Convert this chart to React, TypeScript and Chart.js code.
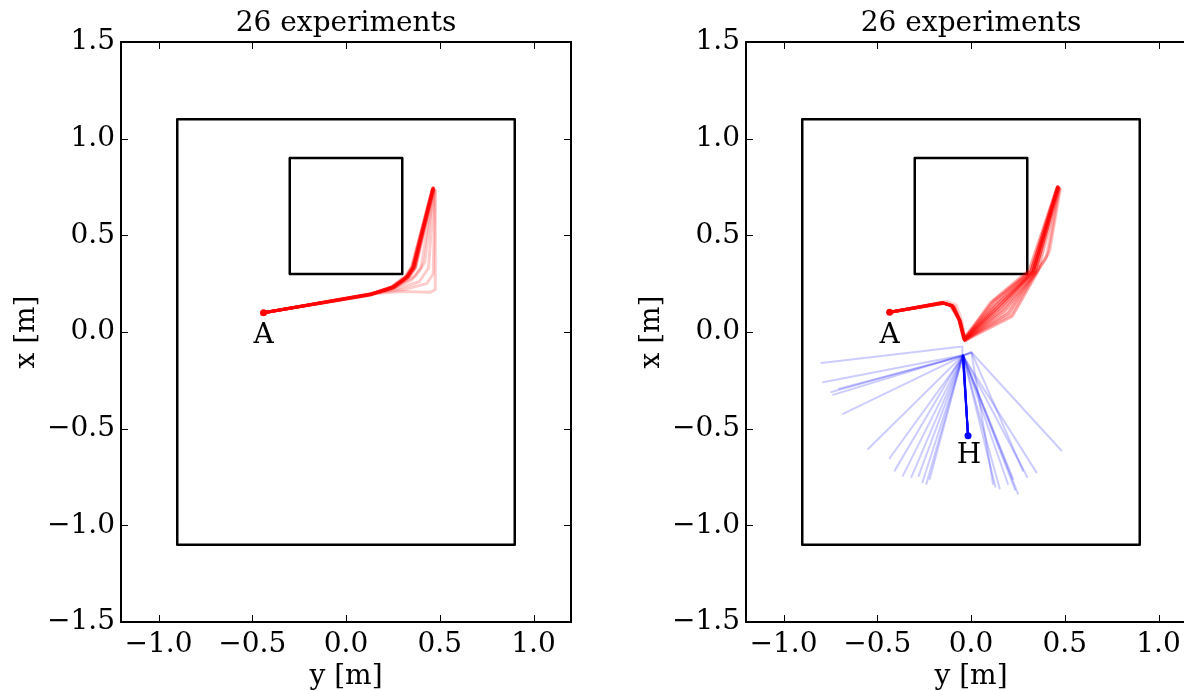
import React, { useEffect, useRef } from 'react';
import { Chart, registerables } from 'chart.js';

Chart.register(...registerables);

type Pt = [number, number]; // [y (horizontal, m), x (vertical, m)]

const TITLE = '26 experiments';
const X_LABEL = 'y [m]';
const Y_LABEL = 'x [m]';
const H_TICKS = [-1.0, -0.5, 0.0, 0.5, 1.0];
const V_TICKS = [-1.5, -1.0, -0.5, 0.0, 0.5, 1.0, 1.5];
const H_MIN = -1.2;
const H_MAX = 1.2;
const V_MIN = -1.5;
const V_MAX = 1.5;

const OUTER_RECT: Pt[] = [[-0.9, -1.1], [0.9, -1.1], [0.9, 1.1], [-0.9, 1.1], [-0.9, -1.1]];
const INNER_RECT: Pt[] = [[-0.3, 0.3], [0.3, 0.3], [0.3, 0.9], [-0.3, 0.9], [-0.3, 0.3]];

const START_A_LEFT: Pt = [-0.44, 0.10];
const START_A_RIGHT: Pt = [-0.434, 0.102];
const START_H: Pt = [-0.016, -0.536];

const LABEL_A_LEFT: Pt = [-0.44, -0.02];
const LABEL_A_RIGHT: Pt = [-0.434, -0.02];
const LABEL_H: Pt = [-0.011, -0.64];

const LEFT_RED: Pt[][] = [
  [[-0.44, 0.10], [0.13, 0.195], [0.25, 0.232], [0.325, 0.284], [0.36, 0.335], [0.464, 0.741]],
  [[-0.44, 0.10], [0.12, 0.190], [0.24, 0.228], [0.318, 0.280], [0.354, 0.330], [0.462, 0.738]],
  [[-0.44, 0.10], [0.14, 0.198], [0.26, 0.236], [0.332, 0.290], [0.366, 0.342], [0.466, 0.744]],
  [[-0.44, 0.10], [0.13, 0.190], [0.25, 0.226], [0.330, 0.280], [0.362, 0.330], [0.465, 0.736]],
  [[-0.44, 0.10], [0.125, 0.192], [0.245, 0.234], [0.320, 0.290], [0.352, 0.340], [0.460, 0.740]],
  [[-0.44, 0.10], [0.135, 0.196], [0.255, 0.230], [0.328, 0.282], [0.368, 0.332], [0.468, 0.742]],
  [[-0.44, 0.10], [0.13, 0.194], [0.25, 0.233], [0.324, 0.286], [0.358, 0.338], [0.463, 0.746]],
  [[-0.44, 0.10], [0.12, 0.193], [0.24, 0.232], [0.316, 0.287], [0.350, 0.338], [0.461, 0.743]],
  [[-0.44, 0.10], [0.14, 0.196], [0.26, 0.231], [0.334, 0.283], [0.370, 0.334], [0.467, 0.739]],
  [[-0.44, 0.10], [0.13, 0.197], [0.25, 0.235], [0.326, 0.288], [0.360, 0.340], [0.464, 0.745]],
  [[-0.44, 0.10], [0.125, 0.191], [0.245, 0.229], [0.322, 0.281], [0.356, 0.331], [0.462, 0.737]],
  [[-0.44, 0.10], [0.135, 0.194], [0.255, 0.232], [0.330, 0.285], [0.364, 0.336], [0.466, 0.741]],
  [[-0.44, 0.10], [0.13, 0.192], [0.25, 0.227], [0.327, 0.279], [0.362, 0.328], [0.465, 0.734]],
  [[-0.44, 0.10], [0.14, 0.199], [0.26, 0.237], [0.334, 0.291], [0.368, 0.343], [0.467, 0.747]],
  [[-0.44, 0.10], [0.12, 0.189], [0.24, 0.226], [0.318, 0.278], [0.352, 0.329], [0.460, 0.736]],
  [[-0.44, 0.10], [0.13, 0.195], [0.25, 0.231], [0.324, 0.284], [0.359, 0.335], [0.464, 0.740]],
  [[-0.44, 0.10], [0.135, 0.197], [0.255, 0.234], [0.329, 0.287], [0.363, 0.339], [0.465, 0.743]],
  [[-0.44, 0.10], [0.125, 0.193], [0.245, 0.231], [0.321, 0.284], [0.355, 0.334], [0.462, 0.739]],
  [[-0.44, 0.10], [0.13, 0.196], [0.25, 0.233], [0.326, 0.286], [0.361, 0.337], [0.466, 0.742]],
  [[-0.44, 0.10], [0.14, 0.195], [0.26, 0.230], [0.336, 0.282], [0.372, 0.333], [0.469, 0.740]],
  [[-0.44, 0.10], [0.13, 0.194], [0.25, 0.232], [0.323, 0.285], [0.357, 0.336], [0.463, 0.741]],
  [[-0.44, 0.10], [0.14, 0.198], [0.30, 0.210], [0.45, 0.205], [0.475, 0.22], [0.476, 0.732]],
  [[-0.44, 0.10], [0.14, 0.198], [0.28, 0.225], [0.39, 0.260], [0.44, 0.33], [0.470, 0.735]],
  [[-0.44, 0.10], [0.13, 0.195], [0.27, 0.235], [0.37, 0.290], [0.42, 0.36], [0.468, 0.738]],
  [[-0.44, 0.10], [0.14, 0.200], [0.31, 0.220], [0.43, 0.250], [0.465, 0.30], [0.475, 0.730]],
  [[-0.44, 0.10], [0.135, 0.195], [0.26, 0.230], [0.35, 0.270], [0.40, 0.33], [0.466, 0.740]],
];

const RIGHT_RED: Pt[][] = [
  [[-0.434, 0.102], [-0.15, 0.150], [-0.10, 0.136], [-0.062, 0.060], [-0.035, -0.040], [0.15, 0.135], [0.33, 0.310], [0.464, 0.750]],
  [[-0.434, 0.102], [-0.16, 0.152], [-0.11, 0.140], [-0.066, 0.070], [-0.040, -0.035], [0.12, 0.160], [0.32, 0.315], [0.460, 0.745]],
  [[-0.434, 0.102], [-0.14, 0.148], [-0.09, 0.130], [-0.055, 0.050], [-0.030, -0.045], [0.20, 0.100], [0.34, 0.305], [0.468, 0.748]],
  [[-0.434, 0.102], [-0.15, 0.150], [-0.10, 0.134], [-0.060, 0.060], [-0.034, -0.042], [0.22, 0.080], [0.35, 0.300], [0.470, 0.742]],
  [[-0.434, 0.102], [-0.15, 0.152], [-0.10, 0.138], [-0.064, 0.065], [-0.036, -0.038], [0.14, 0.145], [0.33, 0.312], [0.465, 0.752]],
  [[-0.434, 0.102], [-0.145, 0.149], [-0.095, 0.132], [-0.058, 0.055], [-0.032, -0.044], [0.17, 0.120], [0.34, 0.308], [0.466, 0.746]],
  [[-0.434, 0.102], [-0.155, 0.151], [-0.105, 0.137], [-0.063, 0.062], [-0.037, -0.039], [0.10, 0.150], [0.31, 0.318], [0.458, 0.748]],
  [[-0.434, 0.102], [-0.15, 0.150], [-0.10, 0.135], [-0.060, 0.058], [-0.035, -0.041], [0.16, 0.128], [0.33, 0.309], [0.464, 0.749]],
  [[-0.434, 0.102], [-0.13, 0.158], [-0.08, 0.140], [-0.050, 0.060], [-0.030, -0.040], [0.18, 0.110], [0.36, 0.320], [0.472, 0.744]],
  [[-0.434, 0.102], [-0.15, 0.151], [-0.10, 0.136], [-0.061, 0.061], [-0.035, -0.040], [0.13, 0.150], [0.32, 0.312], [0.462, 0.751]],
  [[-0.434, 0.102], [-0.15, 0.150], [-0.10, 0.135], [-0.060, 0.060], [-0.034, -0.041], [0.21, 0.090], [0.35, 0.310], [0.41, 0.400], [0.474, 0.740]],
  [[-0.434, 0.102], [-0.155, 0.152], [-0.105, 0.138], [-0.064, 0.064], [-0.037, -0.037], [0.15, 0.138], [0.33, 0.311], [0.463, 0.750]],
  [[-0.434, 0.102], [-0.145, 0.149], [-0.095, 0.133], [-0.057, 0.056], [-0.033, -0.043], [0.19, 0.105], [0.34, 0.302], [0.467, 0.745]],
  [[-0.434, 0.102], [-0.15, 0.150], [-0.10, 0.136], [-0.062, 0.060], [-0.035, -0.040], [0.11, 0.155], [0.31, 0.320], [0.459, 0.747]],
  [[-0.434, 0.102], [-0.15, 0.151], [-0.10, 0.135], [-0.060, 0.059], [-0.035, -0.041], [0.16, 0.130], [0.33, 0.310], [0.465, 0.750]],
  [[-0.434, 0.102], [-0.16, 0.153], [-0.11, 0.139], [-0.067, 0.068], [-0.041, -0.034], [0.14, 0.148], [0.32, 0.314], [0.461, 0.749]],
  [[-0.434, 0.102], [-0.14, 0.148], [-0.09, 0.131], [-0.054, 0.052], [-0.031, -0.046], [0.22, 0.085], [0.35, 0.305], [0.42, 0.420], [0.476, 0.738]],
  [[-0.434, 0.102], [-0.15, 0.150], [-0.10, 0.135], [-0.060, 0.060], [-0.035, -0.040], [0.15, 0.135], [0.33, 0.310], [0.464, 0.748]],
  [[-0.434, 0.102], [-0.15, 0.152], [-0.10, 0.137], [-0.063, 0.063], [-0.036, -0.039], [0.13, 0.152], [0.32, 0.316], [0.462, 0.752]],
  [[-0.434, 0.102], [-0.145, 0.150], [-0.095, 0.134], [-0.058, 0.057], [-0.033, -0.042], [0.18, 0.115], [0.34, 0.306], [0.467, 0.744]],
  [[-0.434, 0.102], [-0.15, 0.150], [-0.10, 0.135], [-0.061, 0.060], [-0.035, -0.040], [0.16, 0.126], [0.33, 0.309], [0.465, 0.747]],
  [[-0.434, 0.102], [-0.155, 0.151], [-0.105, 0.136], [-0.062, 0.061], [-0.036, -0.040], [0.14, 0.142], [0.33, 0.312], [0.463, 0.751]],
  [[-0.434, 0.102], [-0.15, 0.150], [-0.10, 0.135], [-0.060, 0.060], [-0.035, -0.040], [0.20, 0.095], [0.35, 0.310], [0.40, 0.380], [0.470, 0.742]],
  [[-0.434, 0.102], [-0.15, 0.151], [-0.10, 0.136], [-0.061, 0.061], [-0.035, -0.040], [0.15, 0.136], [0.33, 0.310], [0.464, 0.749]],
  [[-0.434, 0.102], [-0.14, 0.149], [-0.09, 0.132], [-0.056, 0.054], [-0.032, -0.044], [0.17, 0.118], [0.34, 0.307], [0.466, 0.746]],
  [[-0.434, 0.102], [-0.16, 0.152], [-0.11, 0.139], [-0.066, 0.066], [-0.039, -0.036], [0.12, 0.158], [0.32, 0.316], [0.460, 0.748]],
];

// Each blue trajectory: H -> hub -> (optional turn point) -> end
const BLUE_HUBS: Pt[] = [
  [-0.043, -0.122], [-0.045, -0.120], [-0.041, -0.124], [-0.044, -0.121], [-0.042, -0.123],
  [-0.043, -0.122], [-0.040, -0.125], [-0.044, -0.120], [-0.042, -0.122], [-0.043, -0.124],
  [-0.041, -0.121], [-0.044, -0.123], [-0.040, -0.120], [-0.042, -0.124], [-0.043, -0.121],
  [-0.041, -0.123], [-0.042, -0.120], [-0.044, -0.122], [-0.040, -0.121], [-0.043, -0.123],
  [-0.042, -0.122], [-0.041, -0.124], [-0.045, -0.121], [-0.042, -0.121], [-0.043, -0.122],
  [-0.041, -0.122],
];

const BLUE_TURNS: (Pt | null)[] = [
  [-0.046, -0.075], null, null, null, null,
  null, null, null, null, null,
  null, null, [0.002, -0.105], null, null,
  null, [0.004, -0.108], null, [0.002, -0.105], null,
  null, null, null, null, null,
  null,
];

const BLUE_ENDS: Pt[] = [
  [-0.798, -0.160], [-0.789, -0.260], [-0.704, -0.294], [-0.736, -0.325], [-0.683, -0.423],
  [-0.549, -0.605], [-0.434, -0.653], [-0.407, -0.717], [-0.363, -0.743], [-0.318, -0.751],
  [-0.259, -0.777], [-0.238, -0.786], [0.117, -0.786], [0.197, -0.786], [0.224, -0.760],
  [0.251, -0.837], [0.277, -0.717], [0.349, -0.726], [0.482, -0.613], [0.153, -0.810],
  [-0.280, -0.745], [0.235, -0.815], [-0.745, -0.310], [0.130, -0.800], [-0.220, -0.760],
  [0.300, -0.750],
];

const FONT = '"DejaVu Serif", serif';
const RED_TRACE = 'rgba(255,0,0,0.2)';
const BLUE_TRACE = 'rgba(0,0,255,0.2)';

const toXY = (pts: Pt[]) => pts.map(([h, v]) => ({ x: h, y: v }));
const fmt = (v: any) => {
  const n = Number(v);
  const s = Math.abs(n) < 1e-9 ? '0.0' : n.toFixed(1);
  return s.replace('-', '\u2212');
};

const framePlugin = {
  id: 'frame',
  afterDraw(chart: any, _args: any, opts: any) {
    const { ctx, chartArea: a, scales } = chart;
    const xs = scales.x;
    const ys = scales.y;
    const TL = 7;
    ctx.save();
    ctx.strokeStyle = '#000';
    ctx.lineWidth = 1;
    ctx.beginPath();
    for (const v of H_TICKS) {
      const p = Math.round(xs.getPixelForValue(v)) + 0.5;
      ctx.moveTo(p, a.bottom);
      ctx.lineTo(p, a.bottom - TL);
      ctx.moveTo(p, a.top);
      ctx.lineTo(p, a.top + TL);
    }
    for (const v of V_TICKS) {
      const p = Math.round(ys.getPixelForValue(v)) + 0.5;
      ctx.moveTo(a.left, p);
      ctx.lineTo(a.left + TL, p);
      ctx.moveTo(a.right, p);
      ctx.lineTo(a.right - TL, p);
    }
    ctx.stroke();
    ctx.lineWidth = 2;
    ctx.strokeRect(a.left, a.top, a.right - a.left, a.bottom - a.top);
    ctx.fillStyle = '#000';
    ctx.font = '28px ' + FONT;
    ctx.textAlign = 'center';
    ctx.textBaseline = 'middle';
    for (const l of (opts && opts.labels) || []) {
      ctx.fillText(l.text, xs.getPixelForValue(l.at[0]), ys.getPixelForValue(l.at[1]));
    }
    ctx.restore();
  },
};

function makeConfig(datasets: any[], labels: any[]): any {
  const tickFont = { family: FONT, size: 28 };
  const titleFont = { family: FONT, size: 28, lineHeight: 1 };
  return {
    type: 'scatter',
    data: { datasets },
    options: {
      animation: false,
      responsive: false,
      maintainAspectRatio: false,
      layout: { padding: { top: 0, right: 54, bottom: 0, left: 0 } },
      elements: { point: { radius: 0, hoverRadius: 0 }, line: { tension: 0 } },
      plugins: {
        legend: { display: false },
        tooltip: { enabled: false },
        title: {
          display: true,
          text: TITLE,
          fullSize: false,
          color: '#000',
          font: { ...titleFont, weight: 'normal' },
          padding: { top: 10, bottom: 4 },
        },
        frame: { labels },
      },
      scales: {
        x: {
          type: 'linear',
          min: H_MIN,
          max: H_MAX,
          afterBuildTicks: (s: any) => { s.ticks = H_TICKS.map((v) => ({ value: v })); },
          afterFit: (s: any) => { s.height = 69; },
          grid: { display: false, drawTicks: false },
          border: { display: false },
          ticks: { padding: 6, color: '#000', font: tickFont, callback: fmt, maxRotation: 0, autoSkip: false },
          title: { display: true, text: X_LABEL, color: '#000', font: titleFont, padding: { top: 0, bottom: 0 } },
        },
        y: {
          type: 'linear',
          min: V_MIN,
          max: V_MAX,
          afterBuildTicks: (s: any) => { s.ticks = V_TICKS.map((v) => ({ value: v })); },
          afterFit: (s: any) => { s.width = 121; },
          grid: { display: false, drawTicks: false },
          border: { display: false },
          ticks: { padding: 6, color: '#000', font: tickFont, callback: fmt, autoSkip: false },
          title: { display: true, text: Y_LABEL, color: '#000', font: titleFont, padding: { top: 13, bottom: 0 } },
        },
      },
    },
    plugins: [framePlugin],
  };
}

const lineDs = (pts: Pt[], color: string, width: number) => ({
  data: toXY(pts),
  showLine: true,
  borderColor: color,
  borderWidth: width,
  pointRadius: 0,
  fill: false,
  borderJoinStyle: 'round',
  borderCapStyle: 'round',
});

const markerDs = (pt: Pt, color: string) => ({
  data: toXY([pt]),
  showLine: false,
  pointRadius: 3.5,
  pointBackgroundColor: color,
  pointBorderWidth: 0,
  borderWidth: 0,
});

function leftDatasets() {
  return [
    markerDs(START_A_LEFT, '#ff0000'),
    ...LEFT_RED.map((t) => lineDs(t, RED_TRACE, 3)),
    lineDs(INNER_RECT, '#000', 2.5),
    lineDs(OUTER_RECT, '#000', 2.5),
  ];
}

function rightDatasets() {
  const blue = BLUE_ENDS.map((e, i) => {
    const turn = BLUE_TURNS[i];
    const pts: Pt[] = turn ? [START_H, BLUE_HUBS[i], turn, e] : [START_H, BLUE_HUBS[i], e];
    return lineDs(pts, BLUE_TRACE, 2);
  });
  return [
    markerDs(START_A_RIGHT, '#ff0000'),
    markerDs(START_H, '#0000ff'),
    ...RIGHT_RED.map((t) => lineDs(t, RED_TRACE, 3)),
    ...blue,
    lineDs(INNER_RECT, '#000', 2.5),
    lineDs(OUTER_RECT, '#000', 2.5),
  ];
}

function Panel({ left, datasets, labels }: { left: number; datasets: any[]; labels: any[] }) {
  const ref = useRef<HTMLCanvasElement>(null);
  useEffect(() => {
    const chart = new Chart(ref.current as HTMLCanvasElement, makeConfig(datasets, labels));
    return () => chart.destroy();
  }, []);
  return (
    <canvas
      ref={ref}
      width={625}
      height={691}
      style={{ position: 'absolute', left, top: 0, width: 625, height: 691 }}
    />
  );
}

export default function App() {
  return (
    <div
      style={{
        position: 'fixed',
        left: 0,
        top: 0,
        width: 1184,
        height: 691,
        overflow: 'hidden',
        background: '#fff',
      }}
    >
      <Panel left={0} datasets={leftDatasets()} labels={[{ text: 'A', at: LABEL_A_LEFT }]} />
      <Panel
        left={625}
        datasets={rightDatasets()}
        labels={[
          { text: 'A', at: LABEL_A_RIGHT },
          { text: 'H', at: LABEL_H },
        ]}
      />
    </div>
  );
}
